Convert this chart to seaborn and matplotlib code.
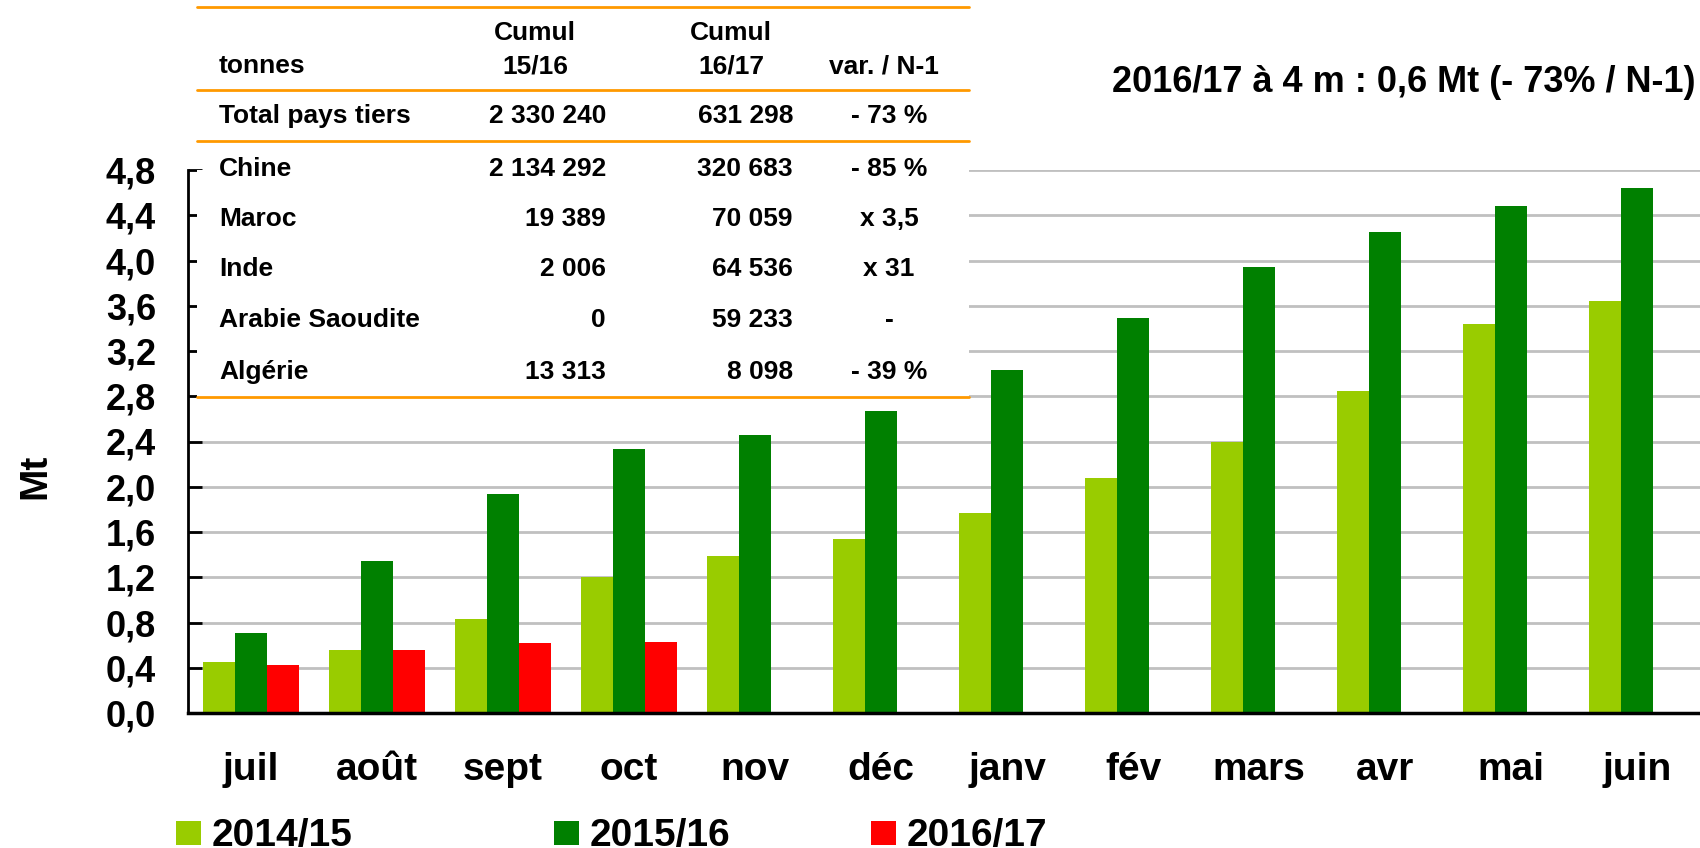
import matplotlib
matplotlib.use("Agg")
import matplotlib.pyplot as plt
from matplotlib.patches import Rectangle
from matplotlib.lines import Line2D
import seaborn as sns
import pandas as pd

# Cumulative exports to third countries, Mt, by campaign month
months = ["juil", "août", "sept", "oct", "nov", "déc", "janv", "fév", "mars", "avr", "mai", "juin"]
seasons = ["2014/15", "2015/16", "2016/17"]
s_2014_15 = [0.45, 0.56, 0.83, 1.20, 1.39, 1.54, 1.77, 2.08, 2.40, 2.85, 3.44, 3.64]
s_2015_16 = [0.71, 1.34, 1.94, 2.33, 2.46, 2.67, 3.03, 3.49, 3.94, 4.25, 4.48, 4.64]
s_2016_17 = [0.42, 0.56, 0.62, 0.631]
colors = ["#99CC00", "#008000", "#FF0000"]

y_ticks = [0.0, 0.4, 0.8, 1.2, 1.6, 2.0, 2.4, 2.8, 3.2, 3.6, 4.0, 4.4, 4.8]

# Destination table (tonnes)
table_header1 = ["", "Cumul", "Cumul", ""]
table_header2 = ["tonnes", "15/16", "16/17", "var. / N-1"]
table_total = ["Total pays tiers", "2 330 240", "631 298", "- 73 %"]
table_rows = [
    ["Chine", "2 134 292", "320 683", "- 85 %"],
    ["Maroc", "19 389", "70 059", "x 3,5"],
    ["Inde", "2 006", "64 536", "x 31"],
    ["Arabie Saoudite", "0", "59 233", "-"],
    ["Algérie", "13 313", "8 098", "- 39 %"],
]
title = "2016/17 à 4 m : 0,6 Mt (- 73% / N-1)"

records = []
for season, vals in zip(seasons, [s_2014_15, s_2015_16, s_2016_17]):
    for m, v in zip(months, vals):
        records.append({"mois": m, "campagne": season, "Mt": v})
df = pd.DataFrame(records)

sns.set_theme(style="white")
plt.rcParams["font.family"] = ["Liberation Sans", "DejaVu Sans"]
plt.rcParams["font.weight"] = "bold"
for key in ["text.color", "axes.labelcolor", "xtick.color", "ytick.color"]:
    plt.rcParams[key] = "black"

W, H = 1700, 848
AX_L, AX_B, AX_T = 188, 713, 170
fig = plt.figure(figsize=(W / 100, H / 100), dpi=100)
ax = fig.add_axes([AX_L / W, 1 - AX_B / H, (W - AX_L) / W, (AX_B - AX_T) / H])

sns.barplot(data=df, x="mois", y="Mt", hue="campagne", order=months,
            hue_order=seasons, palette=colors, width=0.76, saturation=1,
            errorbar=None, ax=ax, legend=False, linewidth=0,
            edgecolor="none", zorder=2)

ax.set_xlim(-0.5, len(months) - 0.5)
ax.set_ylim(0, 4.8)
ax.set_yticks(y_ticks)
ax.set_yticklabels([f"{t:.1f}".replace(".", ",") for t in y_ticks])
ax.set_xlabel("")
ax.set_ylabel("")

ax.set_axisbelow(True)
ax.yaxis.grid(True, color="#C0C0C0", linewidth=2)
ax.xaxis.grid(False)
for side in ["top", "right"]:
    ax.spines[side].set_visible(False)
ax.spines["left"].set_color("black")
ax.spines["left"].set_linewidth(2)
ax.spines["bottom"].set_color("black")
ax.spines["bottom"].set_linewidth(2.5)

ax.tick_params(axis="y", left=True, length=10, width=2, color="black",
               labelsize=26, pad=23, direction="in")
ax.tick_params(axis="x", bottom=False, labelsize=28, pad=22)
for lab in ax.get_xticklabels() + ax.get_yticklabels():
    lab.set_fontweight("bold")


def ty(y):
    return 1 - y / H


fig.text(35 / W, ty(476), "Mt", rotation=90, ha="center", va="center",
         fontsize=28, fontweight="bold")

# White panel behind the table hides the grid there
tx0, tx1 = 197 / W, 969 / W
ax.add_patch(Rectangle((tx0, 1 - 397 / H), tx1 - tx0, 397 / H,
                       transform=fig.transFigure, facecolor="white",
                       edgecolor="none", zorder=1))

# Table lines
orange = "#FF9900"
for yl in [6.5, 89.5, 141, 397]:
    fig.add_artist(Line2D([tx0, tx1], [ty(yl), ty(yl)],
                          color=orange, linewidth=2, zorder=5))

fs_tab = 19
col_x = [219, 606, 793, 889]
col_ha = ["left", "right", "right", "center"]
head_x = [219, 535, 731, 884]

for i, txt in enumerate(table_header1):
    if txt:
        fig.text(head_x[i] / W, ty(33), txt, ha="center", va="center",
                 fontsize=fs_tab, fontweight="bold")
for i, txt in enumerate(table_header2):
    fig.text(head_x[i] / W, ty(66), txt, ha="left" if i == 0 else "center",
             va="center", fontsize=fs_tab, fontweight="bold")
for i, txt in enumerate(table_total):
    fig.text(col_x[i] / W, ty(116), txt, ha=col_ha[i], va="center",
             fontsize=fs_tab, fontweight="bold")
row_y = [169, 219, 269, 320, 372]
for ry, row in zip(row_y, table_rows):
    for i, txt in enumerate(row):
        fig.text(col_x[i] / W, ty(ry), txt, ha=col_ha[i], va="center",
                 fontsize=fs_tab, fontweight="bold")

fig.text(1695 / W, ty(82), title, ha="right", va="center", fontsize=26,
         fontweight="bold")

# Legend
leg_sq_x = [176, 554, 871]
for sx, season, c in zip(leg_sq_x, seasons, colors):
    fig.add_artist(Rectangle((sx / W, ty(845)), 25 / W, 24 / H,
                             transform=fig.transFigure, facecolor=c,
                             edgecolor="none"))
    fig.text((sx + 36) / W, ty(846), season, ha="left", va="baseline",
             fontsize=28, fontweight="bold")

fig.savefig("out.png", dpi=100)
